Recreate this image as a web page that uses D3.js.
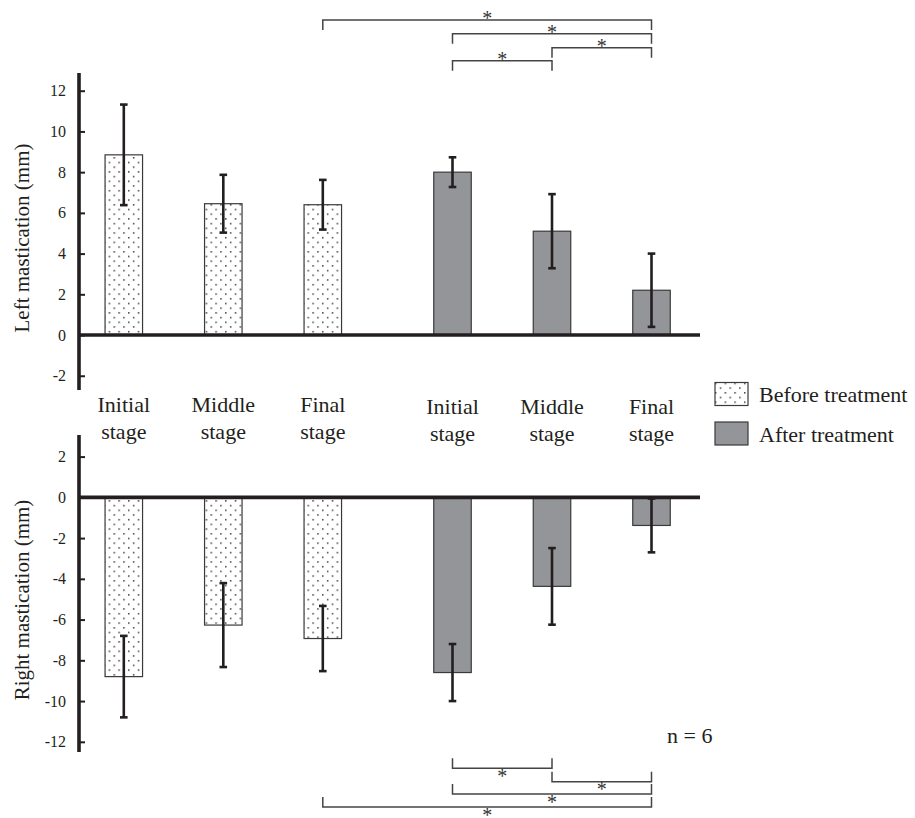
<!DOCTYPE html>
<html>
<head>
<meta charset="utf-8">
<script src="https://cdn.jsdelivr.net/npm/d3@7"></script>
<style>
    body { margin: 0; background: #fff; }
    svg { font-family: "Liberation Serif", "Times New Roman", serif; }
</style>
</head>
<body>
<svg width="915" height="818"></svg>
<script>
// stages and groups
var stages = ["Initial", "Middle", "Final"];
var groups = ["Before treatment", "After treatment"];

// left mastication (mm), mean and SD, [before..., after...]
var leftMean = [8.85, 6.45, 6.4, 8.0, 5.1, 2.2];
var leftSD = [2.47, 1.42, 1.22, 0.73, 1.82, 1.8];

// right mastication (mm)
var rightMean = [-8.8, -6.27, -6.93, -8.6, -4.37, -1.38];
var rightSD = [2.0, 2.06, 1.6, 1.4, 1.88, 1.32];

var leftTicks = [-2, 0, 2, 4, 6, 8, 10, 12];
var rightTicks = [-12, -10, -8, -6, -4, -2, 0, 2];

// significance brackets: [from index, to index]
var topBrackets = [[2, 5], [3, 5], [4, 5], [3, 4]];
var bottomBrackets = [[3, 4], [4, 5], [3, 5], [2, 5]];

var ink = "#231f20";

var svg = d3.select("svg");

var x0 = d3.scalePoint().domain(groups).range([223.3, 552]),
    x1 = d3.scalePoint().domain(stages).range([-99.5, 99.5]),
    barW = 37.5;

function xPos(i) {
    return x0(groups[Math.floor(i / 3)]) + x1(stages[i % 3]);
}

var yTop = d3.scaleLinear().domain([-2.7, 12.87]).range([390, 73]),
    yBot = d3.scaleLinear().domain([-12.5, 3.06]).range([752, 435]);

// dotted pattern
var defs = svg.append("defs");
var pat = defs.append("pattern")
    .attr("id", "dots")
    .attr("patternUnits", "userSpaceOnUse")
    .attr("width", 9.7)
    .attr("height", 9.4);
pat.append("rect").attr("width", 9.7).attr("height", 9.4).attr("fill", "#fff");
pat.append("rect").attr("x", 2).attr("y", 2).attr("width", 1.4).attr("height", 1.4).attr("fill", "#222");
pat.append("rect").attr("x", 6.85).attr("y", 6.7).attr("width", 1.4).attr("height", 1.4).attr("fill", "#222");

function panel(y, mean, sd, ticks, title, titleY) {
    var data = mean.map(function (m, i) {
        return { i: i, mean: m, sd: sd[i] };
    });

    var g = svg.append("g");

    g.selectAll(".bar")
        .data(data)
        .enter().append("rect")
        .attr("class", "bar")
        .attr("x", function (d) { return xPos(d.i) - barW / 2; })
        .attr("y", function (d) { return Math.min(y(d.mean), y(0)); })
        .attr("width", barW)
        .attr("height", function (d) { return Math.abs(y(d.mean) - y(0)); })
        .attr("fill", function (d) { return d.i < 3 ? "url(#dots)" : "#939598"; })
        .attr("stroke", "#3a3a3a")
        .attr("stroke-width", 1.2);

    // error bars
    var eb = g.selectAll(".err")
        .data(data)
        .enter().append("g")
        .attr("class", "err")
        .attr("stroke", ink)
        .attr("stroke-width", 2.6);
    eb.append("line")
        .attr("x1", function (d) { return xPos(d.i); })
        .attr("x2", function (d) { return xPos(d.i); })
        .attr("y1", function (d) { return y(d.mean - d.sd); })
        .attr("y2", function (d) { return y(d.mean + d.sd); });
    [-1, 1].forEach(function (s) {
        eb.append("line")
            .attr("x1", function (d) { return xPos(d.i) - 3.8; })
            .attr("x2", function (d) { return xPos(d.i) + 3.8; })
            .attr("y1", function (d) { return y(d.mean + s * d.sd); })
            .attr("y2", function (d) { return y(d.mean + s * d.sd); });
    });

    // zero line
    g.append("line")
        .attr("x1", 79).attr("x2", 700)
        .attr("y1", y(0)).attr("y2", y(0))
        .attr("stroke", ink)
        .attr("stroke-width", 3.6);

    var axis = g.append("g")
        .attr("transform", "translate(79,0)")
        .call(d3.axisLeft(y).tickValues(ticks).tickSize(-6).tickPadding(13)
            .tickFormat(function (d) { return String(d); }));
    axis.select(".domain").remove();
    axis.selectAll(".tick line").attr("stroke", ink).attr("stroke-width", 2);
    axis.selectAll(".tick text")
        .attr("fill", ink)
        .style("font-family", "Liberation Serif")
        .style("font-size", "16px");
    axis.append("line")
        .attr("y1", y.range()[1]).attr("y2", y.range()[0])
        .attr("stroke", ink)
        .attr("stroke-width", 3.6);

    g.append("text")
        .attr("transform", "translate(29," + titleY + ") rotate(-90)")
        .attr("text-anchor", "middle")
        .attr("fill", ink)
        .style("font-size", "21px")
        .text(title);
}

panel(yTop, leftMean, leftSD, leftTicks, "Left mastication (mm)", 238);
panel(yBot, rightMean, rightSD, rightTicks, "Right mastication (mm)", 600);

// stage labels
var labels = svg.append("g")
    .attr("fill", ink)
    .style("font-size", "22px")
    .attr("text-anchor", "middle");
d3.range(6).forEach(function (i) {
    var dy = i < 3 ? 0 : 2;
    labels.append("text").attr("x", xPos(i)).attr("y", 412 + dy).text(stages[i % 3]);
    labels.append("text").attr("x", xPos(i)).attr("y", 439 + dy).text("stage");
});

// legend
var legend = svg.append("g").attr("fill", ink).style("font-size", "22px");
groups.forEach(function (name, k) {
    legend.append("rect")
        .attr("x", 715).attr("y", 382.5 + k * 39.5)
        .attr("width", 33).attr("height", 23)
        .attr("fill", k === 0 ? "url(#dots)" : "#939598")
        .attr("stroke", "#3a3a3a")
        .attr("stroke-width", 1.2);
    legend.append("text")
        .attr("x", 759).attr("y", 401.5 + k * 40)
        .text(name);
});

svg.append("text")
    .attr("x", 667).attr("y", 743)
    .attr("fill", ink)
    .style("font-size", "22px")
    .text("n = 6");

// brackets
function brackets(list, levels, dir) {
    var g = svg.append("g");
    list.forEach(function (b, k) {
        var xa = xPos(b[0]), xb = xPos(b[1]), ly = levels[k];
        g.append("path")
            .attr("d", "M" + xa + "," + (ly + dir * 10) + "V" + ly + "H" + xb + "V" + (ly + dir * 10))
            .attr("fill", "none")
            .attr("stroke", "#444")
            .attr("stroke-width", 1.5);
        g.append("text")
            .attr("x", (xa + xb) / 2)
            .attr("y", dir > 0 ? ly + 5 : ly + 14.5)
            .attr("text-anchor", "middle")
            .attr("fill", "#333")
            .style("font-size", "20px")
            .text("*");
    });
}

brackets(topBrackets, [20, 33.7, 47.7, 60.7], 1);
brackets(bottomBrackets, [768.3, 781.7, 794, 807], -1);
</script>
</body>
</html>
